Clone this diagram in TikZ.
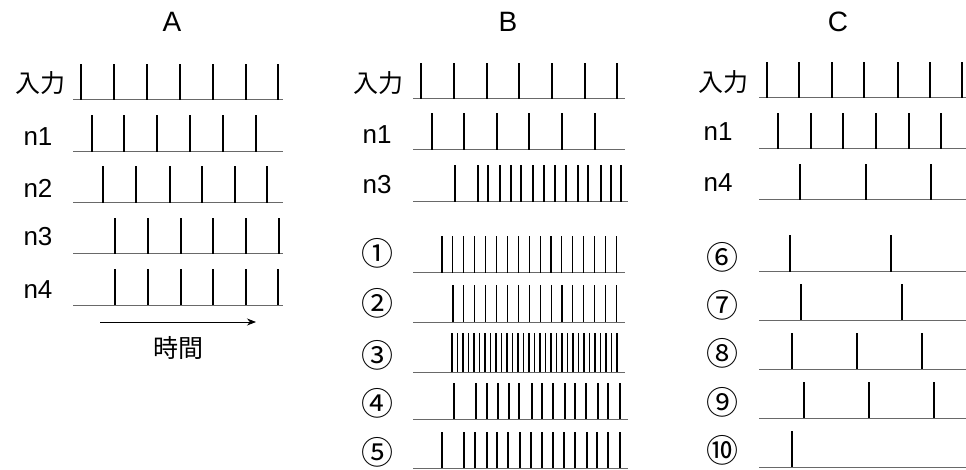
\documentclass[tikz,border=0pt]{standalone}
\usepackage{xcolor}
\usepackage{fontspec}
\setmainfont{Liberation Sans}
\newfontfamily\jpfont{Noto Sans CJK JP}
\usepackage{tikz}
\usetikzlibrary{arrows.meta}
\definecolor{axisgray}{RGB}{105,105,105}

% one spike row: baseline from #1 to #2 at height #3, spikes up to #4 at x in #5
\newcommand{\spikerow}[5]{%
  \draw[axisline] (#1,#3) -- (#2,#3);
  \foreach \sx in {#5} {\draw[spike] (\sx,#3) -- (\sx,#4);}
}

\begin{document}
\begin{tikzpicture}[x=1pt, y=-1pt,
    axisline/.style={axisgray, line width=1pt},
    spike/.style={black, line width=1.1pt},
    fatspike/.style={black, line width=2.6pt},
    title/.style={font=\fontsize{28}{30}\selectfont},
    lab/.style={font=\fontsize{26}{28}\selectfont},
    jplab/.style={font=\jpfont\fontsize{25}{28}\selectfont},
    numlab/.style={font=\jpfont\fontsize{32}{34}\selectfont}]
    \useasboundingbox (0,0) rectangle (966,470);

    % Titles
    \node[title] (tA) at (172,22) {A};
    \node[title] (tB) at (508,22) {B};
    \node[title] (tC) at (838,22) {C};

    % Panel A
    \node[jplab] (aIn) at (40,83) {入力};
    \node[lab] (an1) at (38,137) {n1};
    \node[lab] (an2) at (38,188) {n2};
    \node[lab] (an3) at (38,237) {n3};
    \node[lab] (an4) at (38,290) {n4};
    \spikerow{73}{283}{100}{64}{81,114,147,180,213,246,278}
    \spikerow{73}{283}{152}{115}{92,124,157,190,223,256}
    \spikerow{73}{283}{203}{166}{103,136,170,202,235,267}
    \spikerow{73}{283}{254}{218}{115,148,181,213,246,279}
    \spikerow{73}{283}{305}{269}{115,148,181,213,246,278}

    % time arrow
    \coordinate (tStart) at (100,322);
    \coordinate (tEnd) at (256,322);
    \draw[line width=0.8pt, -{Stealth[length=9pt, width=7pt]}] (tStart) -- (tEnd);
    \node[jplab] (time) at (178,348) {時間};

    % Panel B
    \node[jplab] (bIn) at (378,83) {入力};
    \node[lab] (bn1) at (377,135) {n1};
    \node[lab] (bn3) at (377,185) {n3};
    \node[numlab] (b1) at (377,253) {①};
    \node[numlab] (b2) at (377,303) {②};
    \node[numlab] (b3) at (377,355) {③};
    \node[numlab] (b4) at (377,403) {④};
    \node[numlab] (b5) at (377,452) {⑤};
    \spikerow{413}{625}{99}{63}{421,454,487,519,552,585,617}
    \spikerow{413}{625}{150}{113}{432,464,497,529,562,595}
    \spikerow{413}{628}{202}{165}{455,478,488,500,511,521,533,544,566}
    \foreach \sx in {555,578,588,601,611,621} {\draw[fatspike] (\sx,202) -- (\sx,165);}
    \spikerow{413}{625}{273}{236}{442,452.9,...,617}
    \spikerow{413}{625}{322}{285}{453,463.9,...,617}
    \spikerow{413}{625}{372}{333}{452,457.5,...,618}
    \spikerow{413}{628}{419}{383}{454,476,487,498,509,519,532,542,565}
    \foreach \sx in {553,575,586,598,608,620} {\draw[fatspike] (\sx,419) -- (\sx,383);}
    \spikerow{413}{628}{468}{432}{442,464,475,487,497,508,520,531,553}
    \foreach \sx in {542,564,575,587,597,608,620} {\draw[fatspike] (\sx,468) -- (\sx,432);}

    % Panel C
    \node[jplab] (cIn) at (723,82) {入力};
    \node[lab] (cn1) at (718,132) {n1};
    \node[lab] (cn4) at (718,183) {n4};
    \node[numlab] (c6) at (722,257) {⑥};
    \node[numlab] (c7) at (722,305) {⑦};
    \node[numlab] (c8) at (722,353) {⑧};
    \node[numlab] (c9) at (722,402) {⑨};
    \node[numlab] (c10) at (722,450) {⑩};
    \spikerow{759}{966}{98}{62}{767,799,832,864,898,930,962}
    \spikerow{759}{966}{149}{113}{778,811,843,876,909,941}
    \spikerow{759}{966}{200}{164}{800,866,931}
    \spikerow{759}{966}{272}{235}{790,891}
    \spikerow{759}{966}{320}{284}{801,902}
    \spikerow{759}{966}{369}{333}{792,857,922}
    \spikerow{759}{966}{418}{382}{804,869,934}
    \spikerow{759}{966}{467}{431}{792}
\end{tikzpicture}
\end{document}
